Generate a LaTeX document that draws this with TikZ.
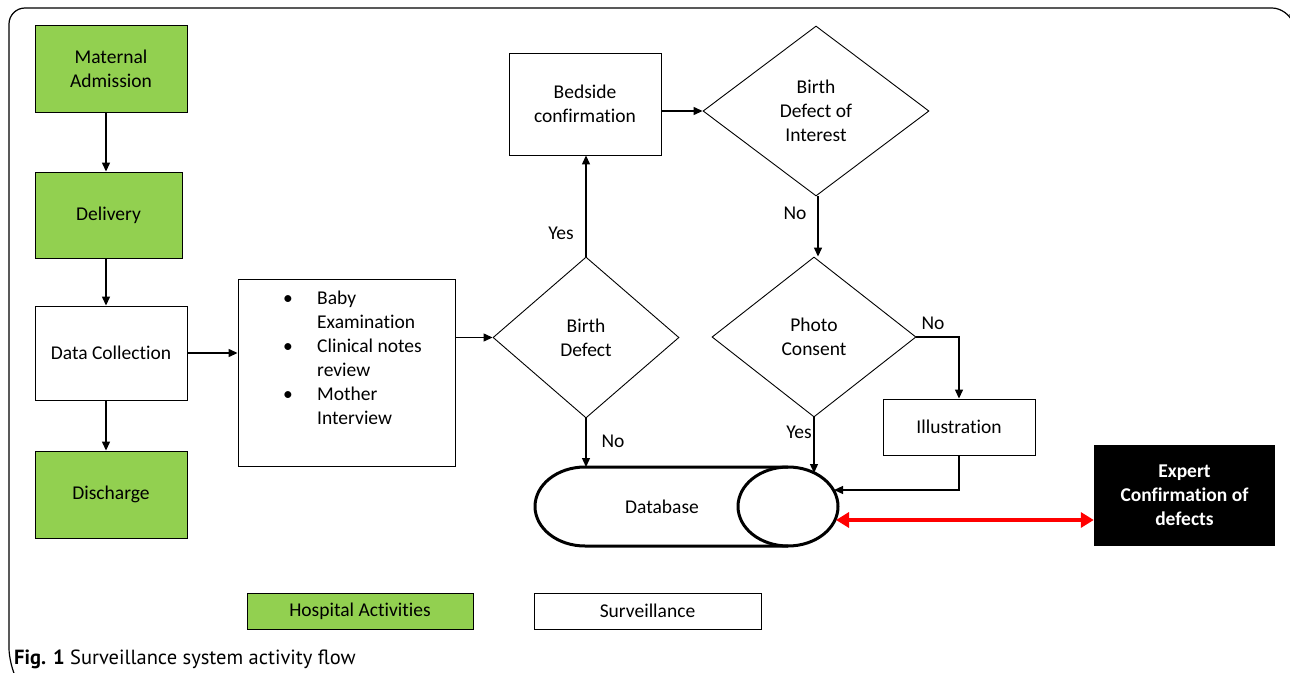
\documentclass[tikz,border=0pt]{standalone}
\usepackage{fontspec}
\setmainfont{Carlito}[Ligatures=CommonOff]
\newfontfamily\capfont{PT Sans}
\usetikzlibrary{shapes.geometric,arrows.meta}
\definecolor{hgreen}{HTML}{92D050}
\definecolor{ared}{HTML}{FF0000}
\begin{document}
\begin{tikzpicture}[x=1pt,y=-1pt,
  every node/.style={font=\fontsize{19.5}{24}\selectfont},
  box/.style={draw,line width=0.9pt,inner sep=0pt,align=center},
  hosp/.style={box,fill=hgreen},
  dec/.style={draw,line width=0.9pt,diamond,inner sep=0pt,align=center},
  flow/.style={line width=1.3pt,-{Triangle[length=9pt,width=8pt]}},
  redflow/.style={draw=ared,line width=4pt,{Triangle[length=13pt,width=15pt]}-{Triangle[length=13pt,width=15pt]}},
  lab/.style={inner sep=0pt},
  dbline/.style={line width=3pt}]
\useasboundingbox (0,0) rectangle (1290,672);
\draw[line width=1.2pt, rounded corners=16] (14,674) -- (9,664) -- (9,8) -- (1288,8) -- (1290,14);

% left column
\node[hosp, minimum width=152, minimum height=87] (adm) at (111,68.5) {Maternal\\Admission};
\node[hosp, minimum width=147, minimum height=86] (del) at (108.5,215) {Delivery};
\node[box, minimum width=152, minimum height=94] (dc) at (111,353) {Data Collection};
\node[hosp, minimum width=152, minimum height=87] (dis) at (111,494.5) {Discharge};

% exam box
\node[box, minimum width=217, minimum height=187] (exam) at (346.5,372.5) {};
\node[lab, anchor=north west] (examtxt) at (281,287) {%
  \begin{tabular}{@{}p{36pt}@{}l@{}}
  \hspace{2pt}\textbullet & Baby\\
  & Examination\\
  \hspace{2pt}\textbullet & Clinical notes\\
  & review\\
  \hspace{2pt}\textbullet & Mother\\
  & Interview
  \end{tabular}};

% decisions
\node[dec, minimum width=186, minimum height=161] (bd) at (586,337.5) {Birth\\Defect};
\node[box, minimum width=152, minimum height=102] (bed) at (585,104) {Bedside\\confirmation};
\node[dec, minimum width=226, minimum height=170] (bdi) at (816,111) {Birth\\Defect of\\Interest};
\node[dec, minimum width=204, minimum height=160] (pc) at (814,337) {Photo\\Consent};
\node[box, minimum width=152, minimum height=56] (ill) at (959,427) {Illustration};
\node[fill=black, text=white, inner sep=0pt, align=center, minimum width=181, minimum height=101,
      font=\fontsize{19.5}{24}\selectfont\bfseries] (exp) at (1184.5,495.5) {Expert\\Confirmation of\\defects};

% database
\draw[dbline] (788,467) -- (585,467) arc[start angle=270, end angle=90, x radius=50, y radius=39.5] -- (788,546);
\draw[dbline] (788,506.5) ellipse [x radius=50, y radius=39.5];
\node[lab] (db) at (662,507) {Database};
\coordinate (dbA) at (586,467);
\coordinate (dbB) at (814,473);
\coordinate (dbC) at (834,490);
\coordinate (dbD) at (836,520);

% connectors
\draw[flow] ([xshift=-5pt]adm.south) -- ([xshift=-2.5pt]del.north);
\draw[flow] ([xshift=-2.5pt]del.south) -- ([xshift=-5pt]dc.north);
\draw[flow] ([xshift=-5pt]dc.south) -- ([xshift=-5pt]dis.north);
\draw[flow] (dc.east) -- (dc.east -| exam.west);
\draw[flow] (exam.east |- bd.west) -- (bd.west);
\draw[flow] (bd.north) -- (bd.north |- bed.south);
\draw[flow] (bed.east |- bdi.west) -- (bdi.west);
\draw[flow] ([xshift=2pt]bdi.south) -- ([xshift=2pt]bdi.south |- pc.north);
\draw[flow] (pc.east) -| (ill.north);
\draw[flow] (pc.south) -- (dbB);
\draw[flow] (bd.south) -- (dbA);
\draw[flow] (ill.south) |- (dbC);
\draw[redflow] (dbD) -- (dbD -| exp.west);

% labels
\node[lab] (yes1) at (561,233) {Yes};
\node[lab] (no1) at (795,213) {No};
\node[lab] (no2) at (933,323) {No};
\node[lab] (yes2) at (799,432) {Yes};
\node[lab] (no3) at (613,441) {No};

% legend
\node[hosp, minimum width=226, minimum height=36] (lg1) at (360,611) {Hospital Activities};
\node[box, minimum width=227, minimum height=36] (lg2) at (647.5,611) {Surveillance};

% caption
\node[lab, anchor=base west, font=\capfont\fontsize{20.5}{24}\selectfont] (cap) at (14,664) {\textbf{Fig. 1} Surveillance system activity flow};
\end{tikzpicture}
\end{document}
